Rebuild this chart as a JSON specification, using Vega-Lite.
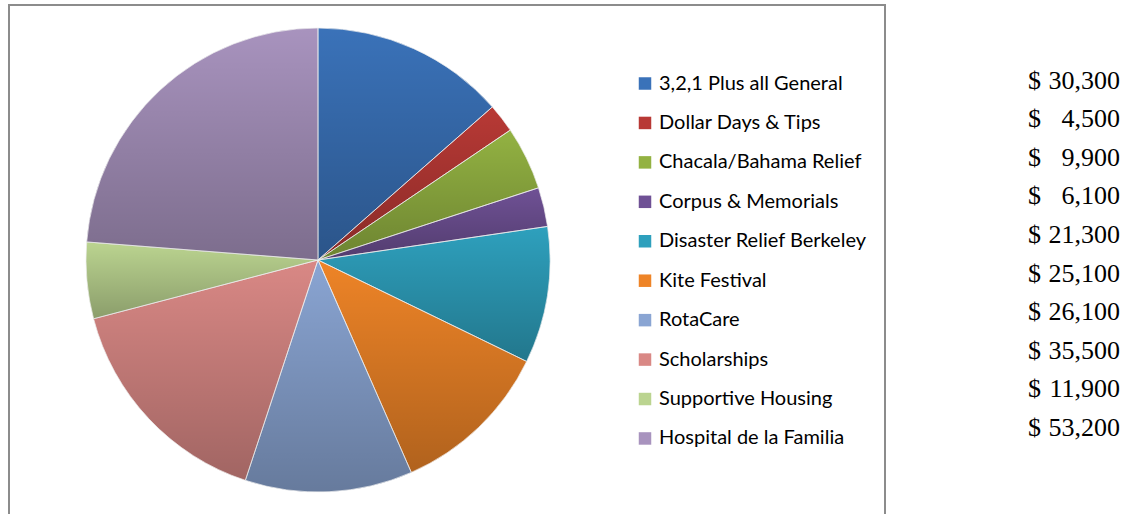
{
  "$schema": "https://vega.github.io/schema/vega-lite/v6.json",
  "width": 876,
  "height": 520,
  "padding": {"left": 9, "top": 5, "right": 5, "bottom": 0},
  "autosize": {"type": "pad"},
  "background": "white",
  "config": {
    "view": {"stroke": "#8c8c8c", "strokeWidth": 2},
    "font": "Lato"
  },
  "data": {
    "values": [
      {"idx": 1, "category": "3,2,1 Plus all General", "amount": 30300},
      {"idx": 2, "category": "Dollar Days & Tips", "amount": 4500},
      {"idx": 3, "category": "Chacala/Bahama Relief", "amount": 9900},
      {"idx": 4, "category": "Corpus & Memorials", "amount": 6100},
      {"idx": 5, "category": "Disaster Relief Berkeley", "amount": 21300},
      {"idx": 6, "category": "Kite Festival", "amount": 25100},
      {"idx": 7, "category": "RotaCare", "amount": 26100},
      {"idx": 8, "category": "Scholarships", "amount": 35500},
      {"idx": 9, "category": "Supportive Housing", "amount": 11900},
      {"idx": 10, "category": "Hospital de la Familia", "amount": 53200}
    ]
  },
  "layer": [
    {
      "mark": {"type": "arc", "outerRadius": 232, "x": 309, "y": 255, "strokeWidth": 0},
      "encoding": {
        "theta": {"field": "amount", "type": "quantitative", "stack": true},
        "order": {"field": "idx", "type": "quantitative"},
        "color": {
          "field": "category",
          "type": "nominal",
          "scale": {
            "domain": ["3,2,1 Plus all General", "Dollar Days & Tips", "Chacala/Bahama Relief", "Corpus & Memorials", "Disaster Relief Berkeley", "Kite Festival", "RotaCare", "Scholarships", "Supportive Housing", "Hospital de la Familia"],
            "range": ["#3a72b9", "#b83935", "#93b242", "#6f5195", "#2ea0bd", "#ee8427", "#8aa5d3", "#d98885", "#bbd490", "#a893be"]
          },
          "legend": {
            "orient": "none",
            "legendX": 626,
            "legendY": 68.5,
            "title": null,
            "padding": 0,
            "symbolType": "square",
            "symbolSize": 156,
            "symbolStrokeWidth": 0,
            "labelFontSize": 20,
            "labelFont": "Lato",
            "labelColor": "#000000",
            "labelOffset": 4,
            "rowPadding": 19.44,
            "labelLimit": 300
          }
        }
      }
    },
    {
      "mark": {
        "type": "arc", "outerRadius": 232, "x": 309, "y": 255, "stroke": "#eeeeee", "strokeWidth": 0.7,
        "fill": {"gradient": "linear", "x1": 0, "y1": 0, "x2": 0, "y2": 1, "stops": [{"offset": 0, "color": "rgba(0,0,0,0)"}, {"offset": 1, "color": "rgba(0,0,0,0.26)"}]}
      },
      "encoding": {
        "theta": {"field": "amount", "type": "quantitative", "stack": true},
        "order": {"field": "idx", "type": "quantitative"}
      }
    },
    {
      "mark": {"type": "text", "align": "left", "baseline": "middle", "font": "Liberation Serif", "fontSize": 26, "color": "#000000"},
      "encoding": {
        "y": {"field": "category", "type": "nominal", "sort": null, "scale": {"type": "point", "padding": 0, "range": [75.5, 423]}, "axis": null},
        "x": {"value": 1019},
        "text": {"value": "$"}
      }
    },
    {
      "mark": {"type": "text", "align": "right", "baseline": "middle", "font": "Liberation Serif", "fontSize": 26, "color": "#000000"},
      "encoding": {
        "y": {"field": "category", "type": "nominal", "sort": null, "scale": {"type": "point", "padding": 0, "range": [75.5, 423]}, "axis": null},
        "x": {"value": 1111},
        "text": {"field": "amount", "type": "quantitative", "format": ","}
      }
    }
  ]
}
